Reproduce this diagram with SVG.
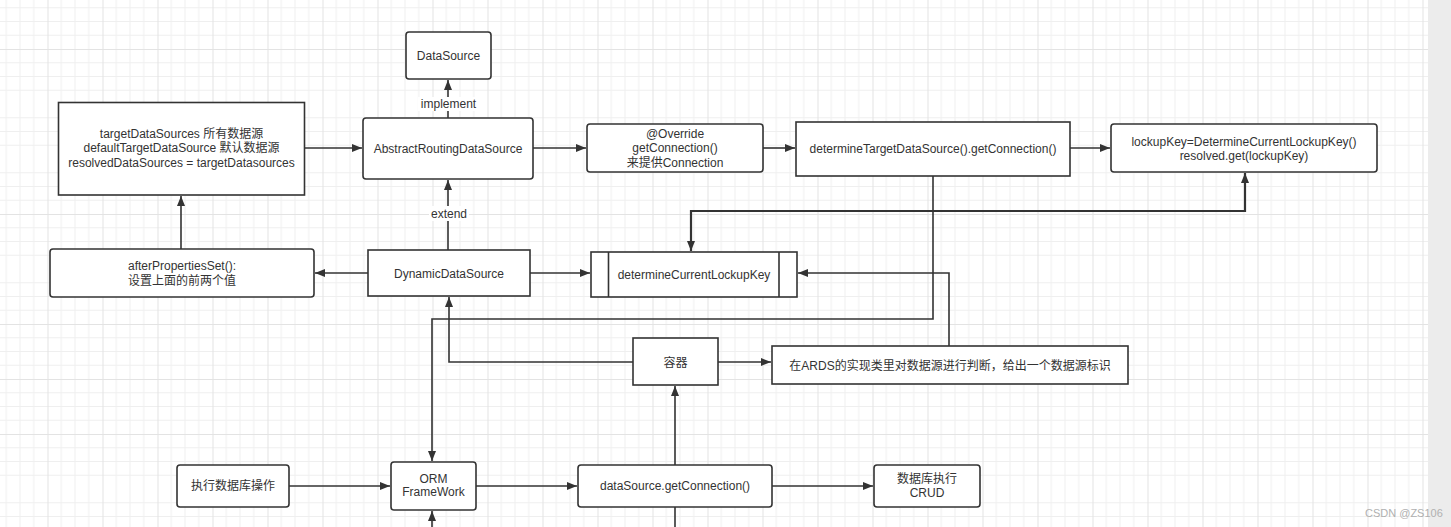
<svg xmlns="http://www.w3.org/2000/svg" width="1451" height="527" viewBox="0 0 1451 527">
  <style>
    .box { fill: #ffffff; stroke: #333333; stroke-width: 1.6; }
    .t { font-family: "Liberation Sans", "Noto Sans CJK SC", sans-serif; font-size: 12px; fill: #333333; text-anchor: middle; dominant-baseline: central; }
    .c { fill: none; stroke: #333333; stroke-width: 1.6; marker-end: url(#arr); }
    .p { fill: none; stroke: #333333; stroke-width: 1.6; }
    .thick { fill: none; stroke: #333333; stroke-width: 2.2; marker-end: url(#arr); marker-start: url(#arr); }
    .wm { font-family: "Liberation Sans", sans-serif; font-size: 11px; fill: #b0b0b0; }
  </style>
  <defs>
    <pattern id="grid" patternUnits="userSpaceOnUse" x="47.5" y="49" width="55" height="55">
      <path d="M13.75,0 V55 M27.5,0 V55 M41.25,0 V55 M0,13.75 H55 M0,27.5 H55 M0,41.25 H55" stroke="#efefef" stroke-width="1" fill="none"/>
      <path d="M0.5,0 V55 M0,0.5 H55" stroke="#e3e3e3" stroke-width="1" fill="none"/>
    </pattern>
    <marker id="arr" markerUnits="userSpaceOnUse" markerWidth="10" markerHeight="8" refX="10" refY="4" orient="auto-start-reverse">
      <path d="M0,0 L10,4 L0,8 z" fill="#333333"/>
    </marker>
  </defs>

  <rect x="0" y="0" width="1451" height="527" fill="#ffffff"/>
  <rect x="0" y="0" width="1428" height="527" fill="url(#grid)"/>
  <rect x="1428" y="0" width="23" height="527" fill="#ececec"/>

  <g id="connectors">
    <path class="c" d="M305,148 H362"/>
    <path class="c" d="M533,148 H586"/>
    <path class="c" d="M763,148 H795"/>
    <path class="c" d="M1070,148 H1110"/>
    <path class="c" d="M448,118 V80"/>
    <path class="c" d="M448,250 V180"/>
    <path class="c" d="M368,273 H315"/>
    <path class="c" d="M181,249 V196"/>
    <path class="c" d="M530,273 H590"/>
    <path class="thick" d="M691,251 V211 H1245 V173"/>
    <path class="c" d="M933,176 V319 H432 V461"/>
    <path class="c" d="M633,362 H449 V297"/>
    <path class="c" d="M718,362 H771"/>
    <path class="c" d="M949,346 V273 H798"/>
    <path class="c" d="M289,486 H390"/>
    <path class="c" d="M476,486 H577"/>
    <path class="c" d="M772,486 H873"/>
    <path class="c" d="M675,465 V386"/>
    <path class="c" d="M432,527 V511"/>
    <path class="p" d="M675,507 V527"/>
    <rect x="418" y="97" width="61" height="14" fill="#ffffff"/>
    <text class="t" x="448.5" y="104">implement</text>
    <rect x="429" y="206" width="40" height="15" fill="#ffffff"/>
    <text class="t" x="449" y="213.5">extend</text>
  </g>

  <g id="n-datasource">
    <rect class="box" x="406" y="32" width="85" height="47" rx="3"/>
    <text class="t" x="448.5" y="56">DataSource</text>
  </g>
  <g id="n-ards">
    <rect class="box" x="363" y="118" width="170" height="61" rx="3"/>
    <text class="t" x="448" y="149">AbstractRoutingDataSource</text>
  </g>
  <g id="n-override">
    <rect class="box" x="587" y="124" width="176" height="48" rx="3"/>
    <text class="t" x="675" y="134">@Override</text>
    <text class="t" x="675" y="148">getConnection()</text>
    <text class="t" x="675" y="162.5">来提供Connection</text>
  </g>
  <g id="n-determine-target">
    <rect class="box" x="796" y="122" width="274" height="54"/>
    <text class="t" x="933" y="149">determineTargetDataSource().getConnection()</text>
  </g>
  <g id="n-lockupkey">
    <rect class="box" x="1111" y="124" width="266" height="48" rx="3"/>
    <text class="t" x="1244" y="141.5">lockupKey=DetermineCurrentLockupKey()</text>
    <text class="t" x="1244" y="155.5">resolved.get(lockupKey)</text>
  </g>
  <g id="n-targets">
    <rect class="box" x="58.5" y="102.5" width="246" height="92.5"/>
    <text class="t" x="181.5" y="134">targetDataSources 所有数据源</text>
    <text class="t" x="181.5" y="148">defaultTargetDataSource 默认数据源</text>
    <text class="t" x="181.5" y="162.5">resolvedDataSources = targetDatasources</text>
  </g>
  <g id="n-afterprops">
    <rect class="box" x="50" y="249" width="264" height="48" rx="3"/>
    <text class="t" x="182" y="266">afterPropertiesSet():</text>
    <text class="t" x="182" y="280.5">设置上面的前两个值</text>
  </g>
  <g id="n-dynamic">
    <rect class="box" x="368" y="250" width="162" height="46"/>
    <text class="t" x="449" y="274">DynamicDataSource</text>
  </g>
  <g id="n-determine-current">
    <rect class="box" x="591" y="252" width="206" height="45"/>
    <path class="p" d="M608.5,252 V297 M779,252 V297"/>
    <text class="t" x="694" y="274.5">determineCurrentLockupKey</text>
  </g>
  <g id="n-container">
    <rect class="box" x="633" y="338" width="85" height="47"/>
    <text class="t" x="675.5" y="362.5">容器</text>
  </g>
  <g id="n-ards-impl">
    <rect class="box" x="772" y="346" width="356" height="38"/>
    <text class="t" x="950" y="365.5">在ARDS的实现类里对数据源进行判断，给出一个数据源标识</text>
  </g>
  <g id="n-exec">
    <rect class="box" x="177" y="465" width="112" height="42" rx="3"/>
    <text class="t" x="233" y="486">执行数据库操作</text>
  </g>
  <g id="n-orm">
    <rect class="box" x="391" y="462" width="85" height="48" rx="3"/>
    <text class="t" x="433.5" y="478.5">ORM</text>
    <text class="t" x="433.5" y="492">FrameWork</text>
  </g>
  <g id="n-getconn">
    <rect class="box" x="578" y="465" width="194" height="42" rx="3"/>
    <text class="t" x="675" y="486">dataSource.getConnection()</text>
  </g>
  <g id="n-crud">
    <rect class="box" x="874" y="465" width="106" height="42" rx="3"/>
    <text class="t" x="927" y="479">数据库执行</text>
    <text class="t" x="927" y="492.5">CRUD</text>
  </g>
  <text class="wm" x="1365" y="517">CSDN @ZS106</text>
</svg>
